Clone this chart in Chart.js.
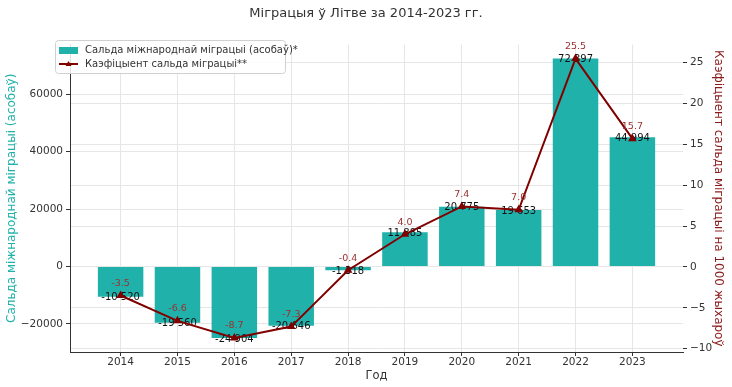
<!DOCTYPE html>
<html>
<head>
<meta charset="utf-8">
<script src="https://cdn.jsdelivr.net/npm/chart.js@4"></script>
<style>
  html, body { margin: 0; padding: 0; background: #fff; }
  #wrap { width: 732px; height: 387px; }
</style>
</head>
<body>
<div id="wrap"><canvas id="chart-1" width="732" height="387"></canvas></div>
<script>
// data
const years = ['2014', '2015', '2016', '2017', '2018', '2019', '2020', '2021', '2022', '2023'];
const netMigration = [-10520, -19560, -24904, -20646, -1318, 11885, 20775, 19653, 72397, 44994];
const migrationRate = [-3.5, -6.6, -8.7, -7.3, -0.4, 4.0, 7.4, 7.0, 25.5, 15.7];
const leftTicks = [-20000, 0, 20000, 40000, 60000];
const rightTicks = [-10, -5, 0, 5, 10, 15, 20, 25];

const barColor = '#20b2aa';
const lineColor = '#800000';
const font = 'DejaVu Sans';

function fmtThousands(v) {
    const s = Math.abs(v).toString().replace(/\B(?=(\d{3})+(?!\d))/g, ' ');
    return (v < 0 ? '-' : '') + s;
}
function minus(v) {
    return String(v).replace('-', '\u2212');
}

// value labels + legend
const labelsPlugin = {
    id: 'labels',
    afterDatasetDraw(chart, args) {
        if (args.index !== 0) return;
        const ctx = chart.ctx;
        ctx.save();
        ctx.font = '10px "' + font + '"';
        ctx.fillStyle = '#111';
        ctx.textAlign = 'center';
        ctx.textBaseline = 'middle';
        args.meta.data.forEach((el, i) => {
            ctx.fillText(fmtThousands(netMigration[i]), el.x, el.y + 1);
        });
        ctx.restore();
    },
    afterDatasetsDraw(chart) {
        const ctx = chart.ctx;
        const meta = chart.getDatasetMeta(1);
        ctx.save();
        ctx.font = '9.5px "' + font + '"';
        ctx.fillStyle = '#9b2f2f';
        ctx.textAlign = 'center';
        ctx.textBaseline = 'middle';
        meta.data.forEach((el, i) => {
            ctx.fillText(migrationRate[i].toFixed(1), el.x, el.y - 12);
        });
        ctx.restore();
    },
    afterDraw(chart) {
        const ctx = chart.ctx;
        const x = 55, y = 40, w = 230, h = 33;
        ctx.save();
        ctx.fillStyle = 'rgba(255,255,255,0.85)';
        ctx.strokeStyle = '#d0d0d0';
        ctx.lineWidth = 1;
        ctx.beginPath();
        ctx.roundRect(x + 0.5, y + 0.5, w, h, 3);
        ctx.fill();
        ctx.stroke();
        ctx.fillStyle = barColor;
        ctx.fillRect(x + 4, y + 7, 19, 7);
        ctx.strokeStyle = lineColor;
        ctx.lineWidth = 2;
        ctx.beginPath();
        ctx.moveTo(x + 4, y + 24);
        ctx.lineTo(x + 23, y + 24);
        ctx.stroke();
        ctx.fillStyle = lineColor;
        ctx.beginPath();
        ctx.moveTo(x + 13.5, y + 21);
        ctx.lineTo(x + 16.5, y + 26);
        ctx.lineTo(x + 10.5, y + 26);
        ctx.closePath();
        ctx.fill();
        ctx.font = '10px "' + font + '"';
        ctx.fillStyle = '#333';
        ctx.textBaseline = 'middle';
        ctx.fillText('Сальда міжнароднай міграцыі (асобаў)*', x + 30, y + 10.5);
        ctx.fillText('Каэфіцыент сальда міграцыі**', x + 30, y + 24.5);
        ctx.restore();
    }
};

const ctx1 = document.getElementById('chart-1').getContext('2d');
const myChart = new Chart(ctx1, {
    type: 'bar',
    data: {
        datasets: [
            {
                type: 'bar',
                label: 'Сальда міжнароднай міграцыі (асобаў)*',
                data: netMigration.map((v, i) => ({ x: i, y: v })),
                backgroundColor: barColor,
                yAxisID: 'y',
                barPercentage: 1,
                categoryPercentage: 0.8,
                order: 1,
            },
            {
                type: 'line',
                label: 'Каэфіцыент сальда міграцыі**',
                data: migrationRate.map((v, i) => ({ x: i, y: v })),
                borderColor: lineColor,
                backgroundColor: lineColor,
                borderWidth: 2,
                pointStyle: 'triangle',
                pointRadius: 3,
                tension: 0,
                fill: false,
                yAxisID: 'y1',
                order: 0,
            },
        ],
    },
    options: {
        responsive: false,
        animation: false,
        layout: { padding: { top: 0, bottom: 0, left: 0, right: 0 } },
        plugins: {
            legend: { display: false },
            tooltip: { enabled: false },
            title: {
                display: true,
                text: 'Міграцыя ў Літве за 2014-2023 гг.',
                color: '#333',
                font: { family: font, size: 13, weight: 'normal' },
                padding: { top: 6, bottom: 23 },
            },
        },
        scales: {
            x: {
                type: 'linear',
                offset: false,
                min: -0.89,
                max: 9.89,
                afterBuildTicks: (s) => { s.ticks = years.map((_, i) => ({ value: i })); },
                afterFit: (s) => { s.height = 35; },
                ticks: {
                    color: '#333',
                    font: { family: font, size: 10.5 },
                    padding: 0,
                    maxRotation: 0,
                    callback: (v) => years[v],
                },
                grid: { offset: false, color: '#e6e6e6', tickColor: '#333', tickLength: 4 },
                border: { display: true, color: '#333', width: 1 },
                title: {
                    display: true,
                    text: 'Год',
                    color: '#333',
                    font: { family: font, size: 11.5 },
                    padding: { top: 0, bottom: 4 },
                },
            },
            y: {
                position: 'left',
                min: -29769,
                max: 77262,
                afterBuildTicks: (s) => { s.ticks = leftTicks.map((v) => ({ value: v })); },
                afterFit: (s) => { s.width = 70; },
                ticks: {
                    color: '#333',
                    font: { family: font, size: 10.5 },
                    padding: 3,
                    callback: (v) => minus(v),
                },
                grid: { color: '#e6e6e6', tickColor: '#333', tickLength: 4 },
                border: { display: true, color: '#333', width: 1 },
                title: {
                    display: true,
                    text: 'Сальда міжнароднай міграцыі (асобаў)',
                    color: barColor,
                    font: { family: font, size: 12 },
                    padding: { top: 5, bottom: 0 },
                },
            },
            y1: {
                position: 'right',
                min: -10.41,
                max: 27.21,
                afterBuildTicks: (s) => { s.ticks = rightTicks.map((v) => ({ value: v })); },
                afterFit: (s) => { s.width = 49; },
                ticks: {
                    color: '#333',
                    font: { family: font, size: 10.5 },
                    padding: 3,
                    callback: (v) => minus(v),
                },
                grid: { color: '#e6e6e6', tickColor: '#333', tickLength: 4 },
                border: { display: false },
                title: {
                    display: true,
                    text: 'Каэфіцыент сальда міграцыі на 1000 жыхароў',
                    color: '#8b1a1a',
                    font: { family: font, size: 12 },
                    padding: { top: 7, bottom: 0 },
                },
            },
        },
    },
    plugins: [labelsPlugin],
});
</script>
</body>
</html>
